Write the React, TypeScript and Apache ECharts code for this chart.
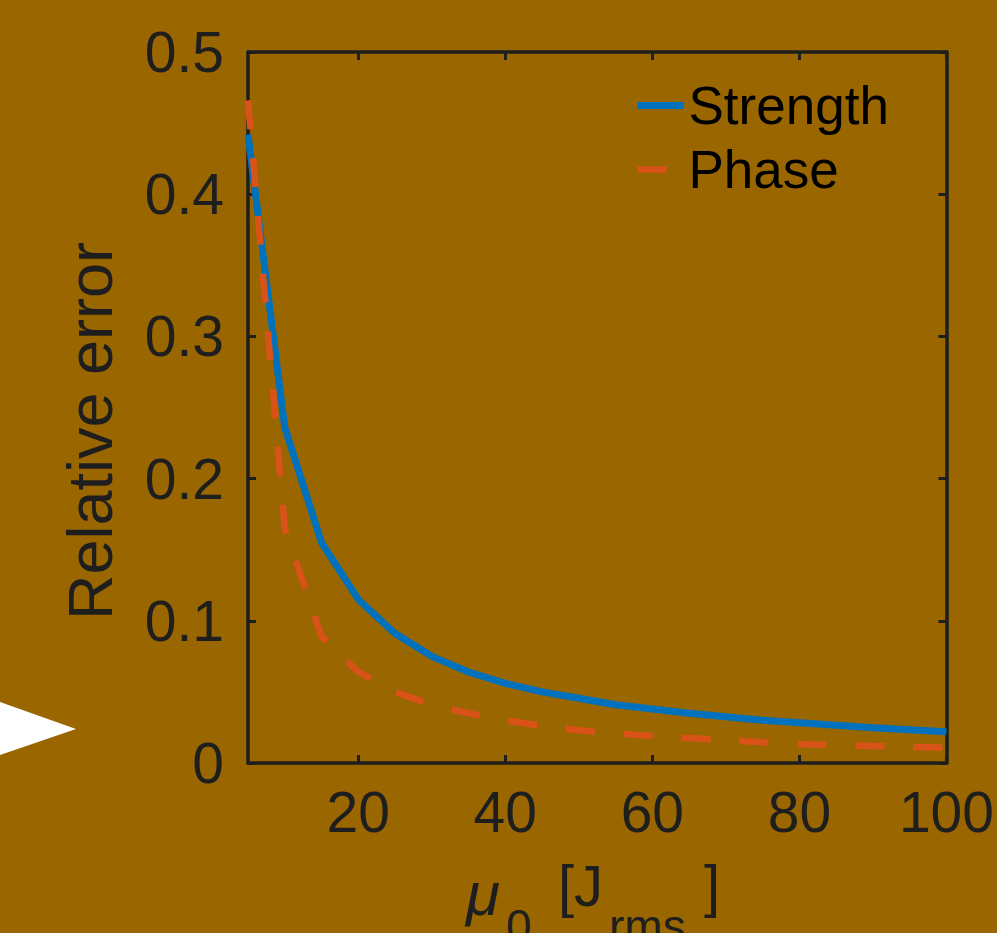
import React, { useEffect, useRef } from "react";
import * as echarts from "echarts";

const muValues = [5, 10, 15, 20, 25, 30, 35, 40, 45, 50, 55, 60, 65, 70, 75, 80, 85, 90, 95, 100];
const strength = [0.442, 0.236, 0.155, 0.115, 0.091, 0.075, 0.064, 0.056, 0.05, 0.0455, 0.041, 0.038, 0.035, 0.0325, 0.030, 0.0283, 0.0265, 0.0248, 0.0234, 0.022];
const phase = [0.466, 0.165, 0.089, 0.064, 0.05, 0.041, 0.035, 0.03, 0.026, 0.023, 0.0208, 0.019, 0.0175, 0.016, 0.0146, 0.0134, 0.0125, 0.012, 0.0113, 0.0108];
const xTicks = [20, 40, 60, 80, 100];
const seriesNames = ["Strength", "Phase"];

const FONT = '"Liberation Sans", Arial, Helvetica, sans-serif';
const AXIS = "#1e1e1e";

export default function App() {
  const ref = useRef<HTMLDivElement>(null);
  useEffect(() => {
    if (!ref.current) return;
    const chart = echarts.init(ref.current, undefined, { renderer: "svg" });
    const strengthData = muValues.map((x, i) => [x, strength[i]]);
    const phaseData = muValues.map((x, i) => [x, phase[i]]);
    const xBase = {
      type: "value",
      min: 5,
      max: 100,
      splitLine: { show: false },
      axisLine: { show: true, onZero: false, lineStyle: { color: AXIS, width: 3.5 } },
      axisTick: { show: true, inside: true, length: 8, customValues: xTicks, lineStyle: { color: AXIS, width: 3 } },
    };
    const yBase = {
      type: "value",
      min: 0,
      max: 0.5,
      interval: 0.1,
      splitLine: { show: false },
      axisLine: { show: true, onZero: false, lineStyle: { color: AXIS, width: 3.5 } },
      axisTick: { show: true, inside: true, length: 8, lineStyle: { color: AXIS, width: 3 } },
    };
    chart.setOption({
      animation: false,
      backgroundColor: "#996600",
      grid: { left: 248, right: 46, top: 52, bottom: 170, containLabel: false },
      legend: {
        orient: "vertical",
        left: 629,
        top: 74,
        itemWidth: 46,
        itemHeight: 14,
        itemGap: 11,
        itemStyle: { opacity: 0, borderWidth: 0 },
        textStyle: { fontSize: 53, color: "#000", fontFamily: FONT },
        data: [
          { name: seriesNames[0], lineStyle: { width: 7 } },
          { name: seriesNames[1], lineStyle: { width: 6.5, type: [29, 29] } },
        ],
      },
      xAxis: [
        {
          ...xBase,
          position: "bottom",
          axisLabel: { show: true, customValues: xTicks, margin: 20, fontSize: 57, color: AXIS, fontFamily: FONT },
        },
        { ...xBase, position: "top", axisLabel: { show: false } },
      ],
      yAxis: [
        {
          ...yBase,
          position: "left",
          axisLabel: { show: true, margin: 24, fontSize: 57, color: AXIS, fontFamily: FONT },
        },
        { ...yBase, position: "right", axisLabel: { show: false } },
      ],
      series: [
        {
          name: seriesNames[0],
          type: "line",
          data: strengthData,
          symbol: "none",
          lineStyle: { color: "#0072BD", width: 7 },
          itemStyle: { color: "#0072BD" },
          z: 2,
        },
        {
          name: seriesNames[1],
          type: "line",
          data: phaseData,
          symbol: "none",
          lineStyle: { color: "#D95319", width: 6.5, type: [29, 29] },
          itemStyle: { color: "#D95319" },
          z: 3,
        },
      ],
      graphic: [
        {
          type: "polygon",
          shape: { points: [[0, 702], [76, 729], [0, 755]] },
          style: { fill: "#ffffff" },
        },
        {
          type: "text",
          x: 90,
          y: 431,
          rotation: Math.PI / 2,
          style: { text: "Relative error", fontSize: 63, fontFamily: FONT, fill: AXIS, align: "center", verticalAlign: "middle" },
        },
        { type: "text", x: 466, y: 893, style: { text: "μ", fontSize: 62, fontStyle: "italic", fontFamily: FONT, fill: AXIS, align: "left", verticalAlign: "middle" } },
        { type: "text", x: 506, y: 926, style: { text: "0", fontSize: 46, fontFamily: FONT, fill: AXIS, align: "left", verticalAlign: "middle" } },
        { type: "text", x: 558, y: 885, style: { text: "[J", fontSize: 58, fontFamily: FONT, fill: AXIS, align: "left", verticalAlign: "middle" } },
        { type: "text", x: 609, y: 926, style: { text: "rms", fontSize: 46, fontFamily: FONT, fill: AXIS, align: "left", verticalAlign: "middle" } },
        { type: "text", x: 704, y: 885, style: { text: "]", fontSize: 58, fontFamily: FONT, fill: AXIS, align: "left", verticalAlign: "middle" } },
      ],
    });
    return () => chart.dispose();
  }, []);
  return <div ref={ref} style={{ position: "fixed", left: 0, top: 0, width: 997, height: 933 }} />;
}
